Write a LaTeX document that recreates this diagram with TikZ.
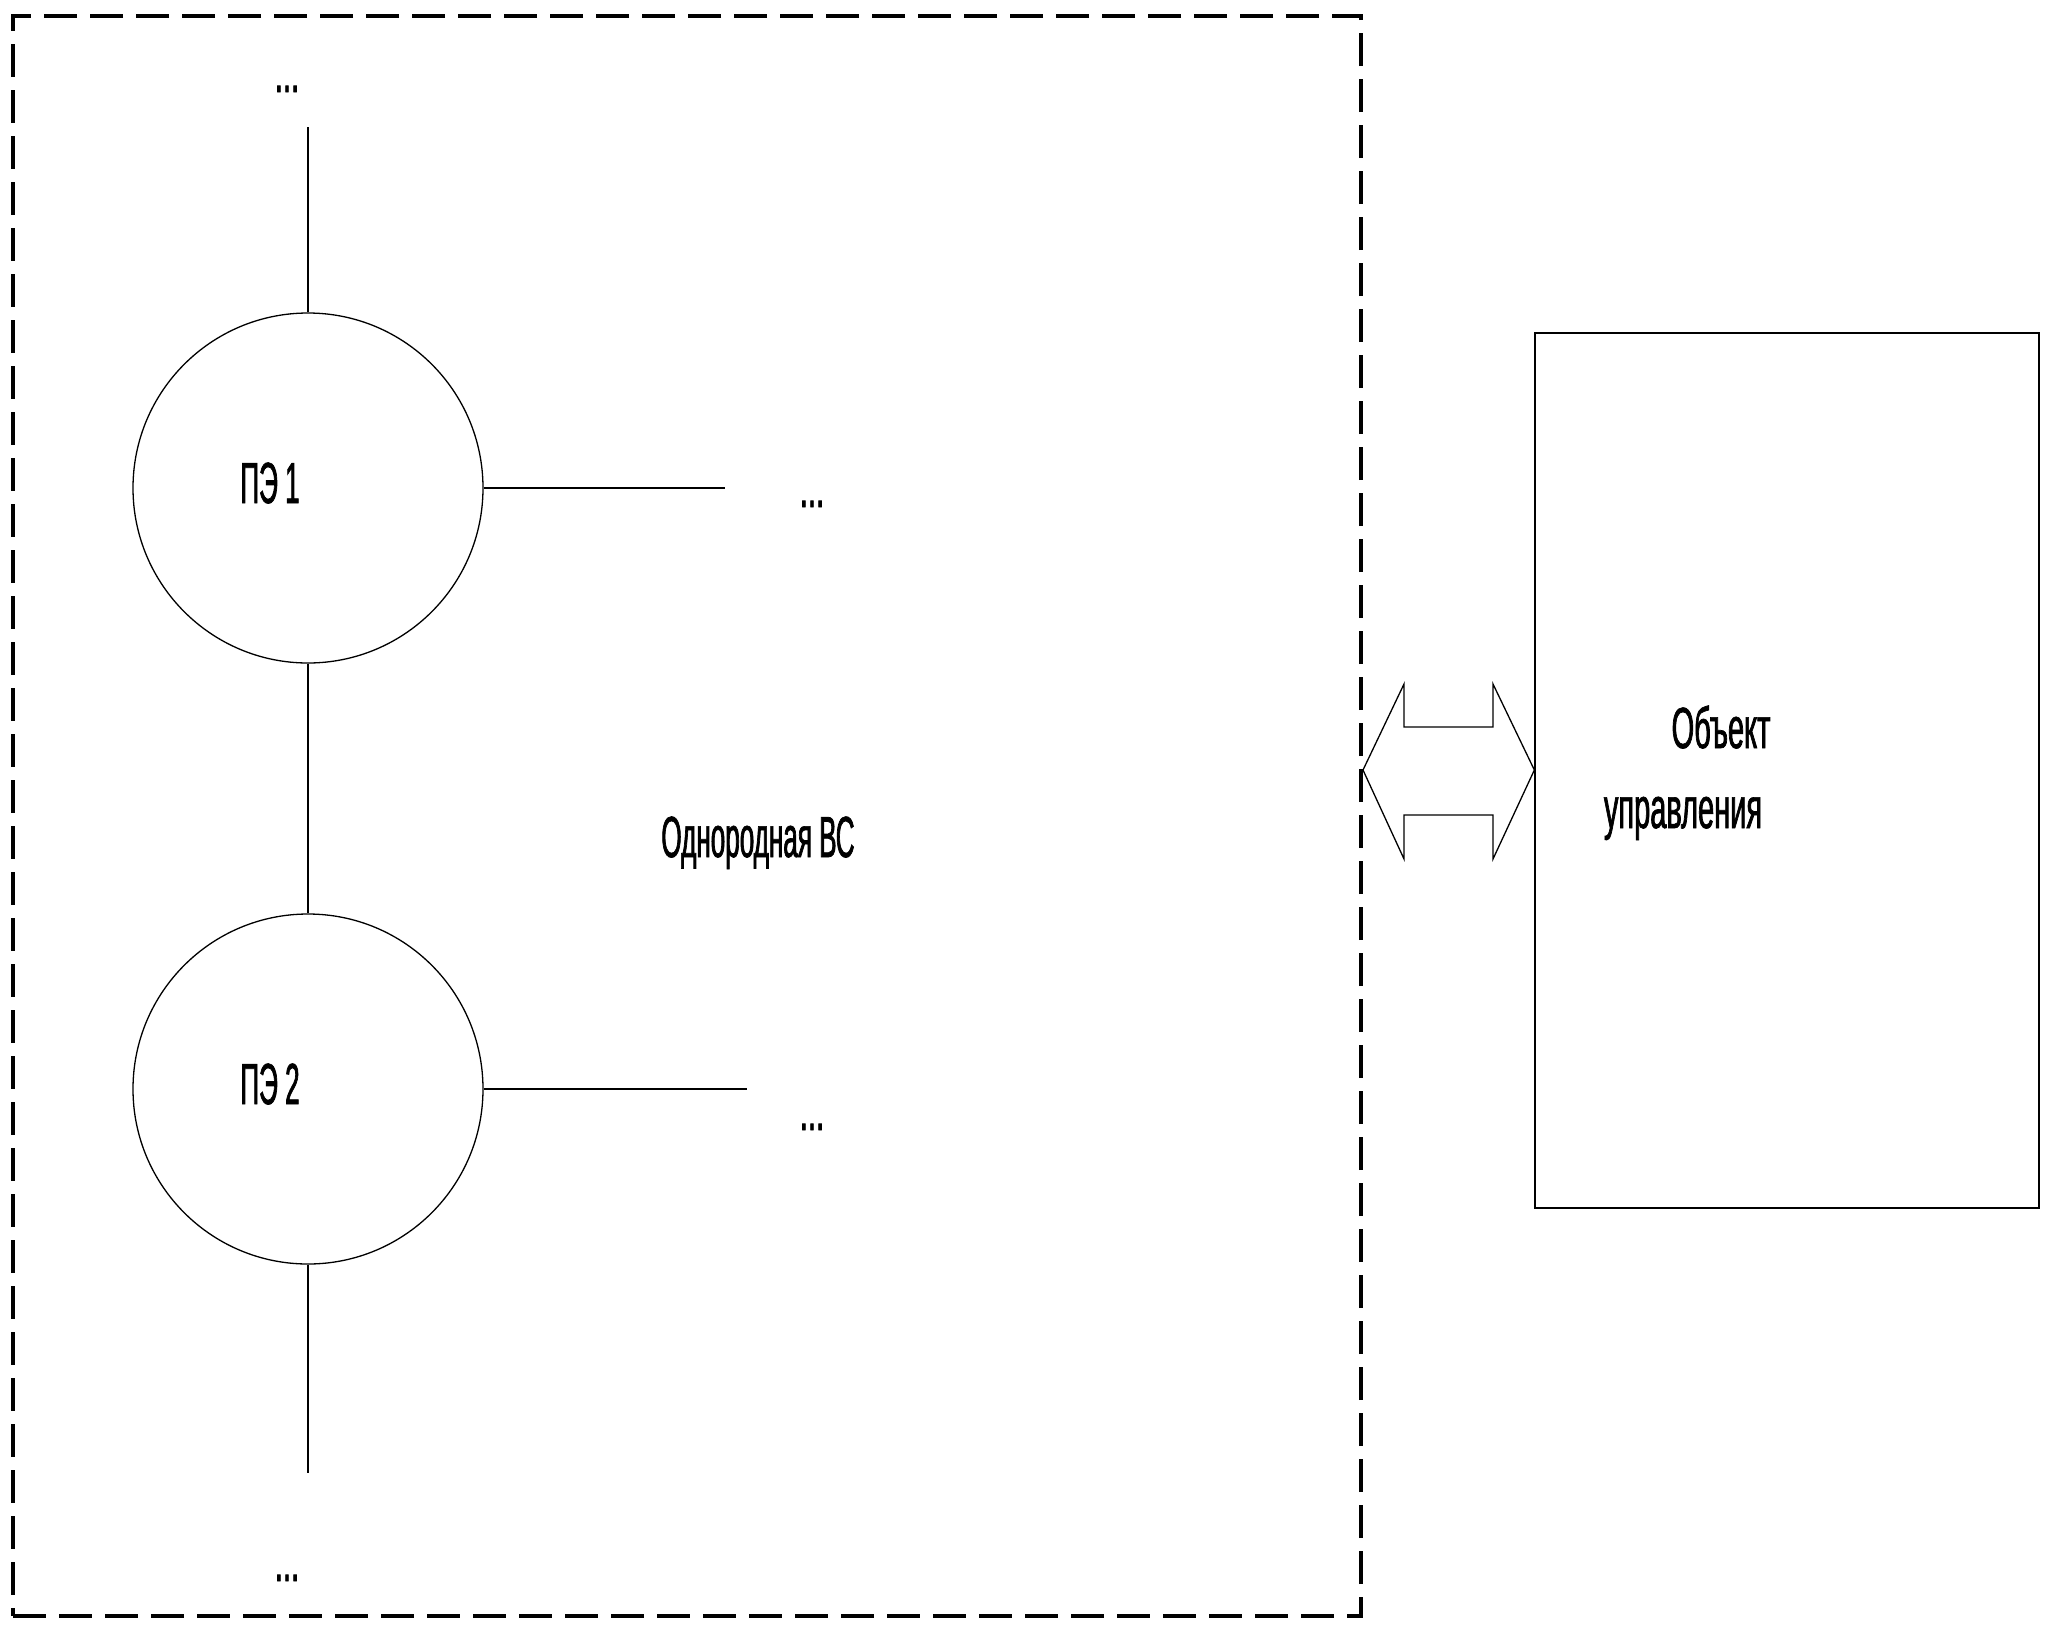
\documentclass[tikz,border=0pt]{standalone}
\usepackage{fontspec}
\newfontfamily\nf[FakeStretch=0.45,FakeBold=1.2]{Liberation Sans}
\newfontfamily\nfw[FakeStretch=0.5,FakeBold=1.2]{Liberation Sans}
\begin{document}
\begin{tikzpicture}[x=1pt,y=-1pt,
  thin line/.style={line width=1.3pt,black},
  pe/.style={circle,draw,line width=1.3pt,minimum size=350pt,inner sep=0pt},
  lbl/.style={font=\nf\fontsize{58}{70}\selectfont,inner sep=0pt,anchor=base},
  lblw/.style={font=\nfw\fontsize{58}{70}\selectfont,inner sep=0pt,anchor=base},
  vsbox/.style={draw,line width=4pt,dash pattern=on 33pt off 13pt,minimum width=1348pt,minimum height=1600pt,inner sep=0pt},
  objbox/.style={draw,line width=1.3pt,minimum width=504pt,minimum height=875pt,inner sep=0pt}]
\useasboundingbox (0,0) rectangle (2048,1634);
% frames
\node[vsbox] (vs) at (687,816) {};
\node[objbox] (obj) at (1787,770.5) {};
% processing elements
\node[pe] (pe1) at (308,488) {};
\node[pe] (pe2) at (308,1089) {};
\node[lbl] (t1) at (270,503) {ПЭ 1};
\node[lbl] (t2) at (270,1104) {ПЭ 2};
% free ends
\coordinate (top) at (308,127);
\coordinate (bot) at (308,1473);
\coordinate (r1) at (725,488);
\coordinate (r2) at (747,1089);
\draw[thin line] (pe1.north) -- (top);
\draw[thin line] (pe1.south) -- (pe2.north);
\draw[thin line] (pe2.south) -- (bot);
\draw[thin line] (pe1.east) -- (r1);
\draw[thin line] (pe2.east) -- (r2);
% dots
\node[lblw] (d1) at (287,92) {...};
\node[lblw] (d2) at (812,507) {...};
\node[lblw] (d3) at (812,1130) {...};
\node[lblw] (d4) at (287,1581) {...};
% labels
\node[lbl] (vslbl) at (758,857) {Однородная ВС};
\node[lblw] (o1) at (1721,748) {Объект};
\node[lblw] (o2) at (1683,828) {управления};
% double arrow
\coordinate (al) at (vs.east |- 0,770);
\coordinate (ar) at (obj.west |- 0,770);
\draw[thin line,line join=miter] (al) -- (1404,684) -- (1404,727) -- (1493,727) -- (1493,684) -- (ar)
  -- (1493,859) -- (1493,815) -- (1404,815) -- (1404,859) -- cycle;
\end{tikzpicture}
\end{document}
